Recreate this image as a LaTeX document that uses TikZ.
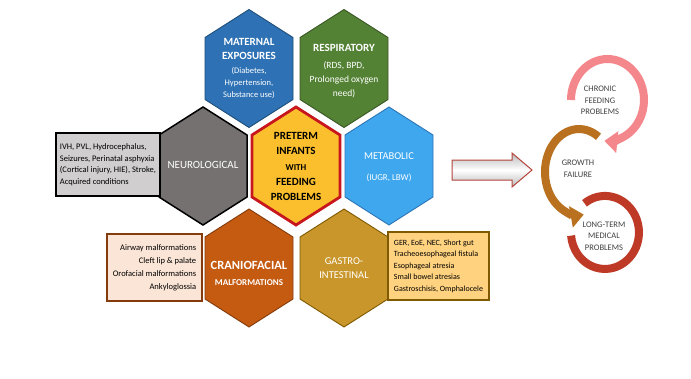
\documentclass[tikz,border=0pt]{standalone}
\usepackage{fontspec}
\setmainfont{Carlito}
\usetikzlibrary{arrows.meta}
\definecolor{matfill}{HTML}{2E72B5}
\definecolor{matdraw}{HTML}{1F4E79}
\definecolor{resfill}{HTML}{548235}
\definecolor{resdraw}{HTML}{385723}
\definecolor{neufill}{HTML}{767171}
\definecolor{prefill}{HTML}{FBBF2E}
\definecolor{predraw}{HTML}{C8161D}
\definecolor{metfill}{HTML}{3FA7EE}
\definecolor{metdraw}{HTML}{2E75B6}
\definecolor{crafill}{HTML}{C55A11}
\definecolor{cradraw}{HTML}{843C0C}
\definecolor{gasfill}{HTML}{C9962B}
\definecolor{gasdraw}{HTML}{7F5A00}
\definecolor{neuboxfill}{HTML}{D0CECE}
\definecolor{craboxfill}{HTML}{FBE5D6}
\definecolor{gasboxfill}{HTML}{FFD27F}
\definecolor{arrdraw}{HTML}{B5443B}
\definecolor{pinkarc}{HTML}{F4878B}
\definecolor{brownarc}{HTML}{BA711F}
\definecolor{redarc}{HTML}{BE3A27}
\definecolor{cyctext}{HTML}{404040}
\newcommand\hexagonat[3]{\draw[#1] (#2,#3) +(0,-59) -- +(44,-31) -- +(44,31) -- +(0,59) -- +(-44,31) -- +(-44,-31) -- cycle;}
\newcommand\fs[2]{\fontsize{#1}{#2}\selectfont}
\begin{document}
\begin{tikzpicture}[x=1pt,y=-1pt,
  hexstyle/.style={line width=0.9pt, line join=miter},
  hextext/.style={text=white, align=center, inner sep=0pt},
  infobox/.style={draw, line width=1.2pt, inner sep=0pt},
  cycarc/.style={line width=8pt},
  cyctxt/.style={text=cyctext, align=center, font=\fs{8.5}{11.5}, inner sep=0pt}]
\useasboundingbox[fill=white] (0,0) rectangle (691,378);

% hexagons
\hexagonat{hexstyle, fill=matfill, draw=matdraw}{249}{68.5}
\hexagonat{hexstyle, fill=resfill, draw=resdraw}{344}{68.5}
\hexagonat{hexstyle, fill=neufill, draw=black, line width=1.5pt}{203}{166}
\hexagonat{hexstyle, fill=metfill, draw=metdraw}{389}{166}
\hexagonat{hexstyle, fill=crafill, draw=cradraw}{249}{268}
\hexagonat{hexstyle, fill=gasfill, draw=gasdraw}{344}{268}
\hexagonat{hexstyle, fill=prefill, draw=predraw, line width=2.8pt}{296}{166}

% hexagon texts
\node[hextext, font=\fs{8.5}{12}] (maternal) at (249,69)
  {{\bfseries\fs{11}{12}MATERNAL}\\[2pt]{\bfseries\fs{11}{12}EXPOSURES}\\[2pt](Diabetes,\\Hypertension,\\Substance use)};
\node[hextext, font=\fs{9.5}{14}] (respiratory) at (344,71)
  {{\bfseries\fs{11}{14}RESPIRATORY}\\[3pt](RDS, BPD,\\Prolonged oxygen\\need)};
\node[hextext, font=\fs{11}{14}] (neuro) at (203,165) {NEUROLOGICAL};
\node[hextext, text=black, font=\bfseries\fs{11}{15.3}] (preterm) at (296,166.5)
  {PRETERM\\INFANTS\\{\fs{9}{15.3}WITH}\\FEEDING\\PROBLEMS};
\node[hextext, font=\fs{10.5}{21}] (metabolic) at (389,167)
  {METABOLIC\\{\fs{9}{21}(IUGR, LBW)}};
\node[hextext, font=\bfseries\fs{12.5}{16}] (cranio) at (249,273)
  {CRANIOFACIAL\\{\fs{9}{16}MALFORMATIONS}};
\node[hextext, font=\fs{10.5}{14}] (gastro) at (344,268) {GASTRO-\\INTESTINAL};

% side boxes
\node[infobox, draw=black, fill=neuboxfill, minimum width=104pt, minimum height=63pt,
  align=left, font=\fs{8.5}{11.5}] (neubox) at (108,164.5)
  {IVH, PVL, Hydrocephalus,\\Seizures, Perinatal asphyxia\\(Cortical injury, HIE), Stroke,\\Acquired conditions};
\node[infobox, draw=cradraw, fill=craboxfill, minimum width=95pt, minimum height=67pt,
  align=right, font=\fs{8.5}{13}] (crabox) at (154.5,267.5)
  {Airway malformations\\Cleft lip \& palate\\Orofacial malformations\\Ankyloglossia};
\node[infobox, draw=gasdraw, fill=gasboxfill, minimum width=101pt, minimum height=68pt,
  align=left, font=\fs{8}{11.5}] (gasbox) at (438.5,266)
  {GER, EoE, NEC, Short gut\\Tracheoesophageal fistula\\Esophageal atresia\\Small bowel atresias\\Gastroschisis, Omphalocele};

% big arrow
\draw[draw=arrdraw, line width=1pt, line join=miter, top color=gray!55, bottom color=gray!55, middle color=white]
  (452,160) -- (512,160) -- (512,153) -- (532,170) -- (512,187) -- (512,180) -- (452,180) -- cycle;

% cycle
\draw[cycarc, redarc] (584.5,203.3) arc[start angle=-127, end angle=175, x radius=34, y radius=36.5];
\draw[cycarc, brownarc, -{Triangle[width=21pt,length=13pt]}] (598.5,136.8) arc[start angle=-55, end angle=-278, x radius=34, y radius=43];
\draw[cycarc, pinkarc, -{Triangle[width=21pt,length=13pt]}] (571,100) arc[start angle=-180, end angle=95, x radius=36.5, y radius=41];

\node[cyctxt] (chronic) at (600,100.5) {CHRONIC\\FEEDING\\PROBLEMS};
\node[cyctxt] (growth) at (578,169) {GROWTH\\FAILURE};
\node[cyctxt] (longterm) at (604,236) {LONG-TERM\\MEDICAL\\PROBLEMS};
\end{tikzpicture}
\end{document}
